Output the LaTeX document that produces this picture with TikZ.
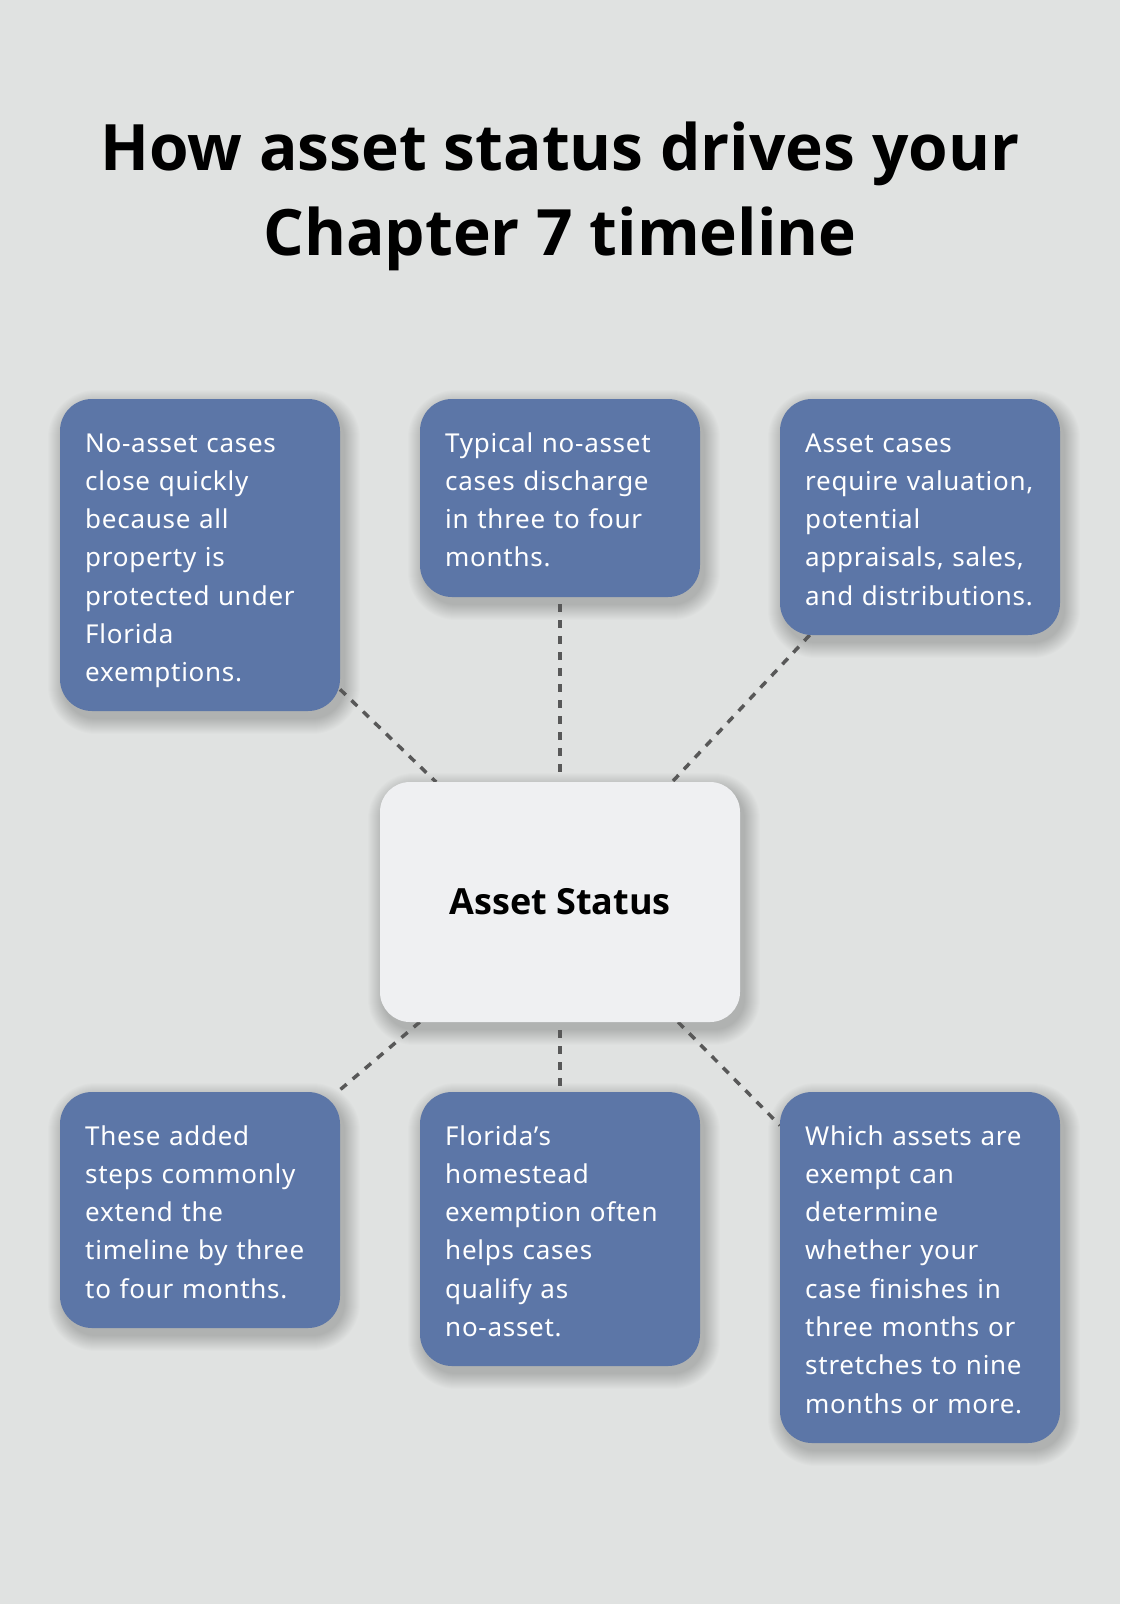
\documentclass[tikz,border=0pt]{standalone}
\usepackage{fontspec}
\setmainfont{Open Sans}
\newfontfamily\bodyfont[LetterSpace=2.8]{Noto Sans}
\usetikzlibrary{calc}
\definecolor{bgc}{RGB}{224,226,225}
\definecolor{boxblue}{RGB}{92,118,167}
\definecolor{centerc}{RGB}{239,240,242}
\definecolor{dashc}{RGB}{88,88,88}
\pgfdeclarelayer{behind}
\pgfsetlayers{behind,main}
\newcommand\boxshadow[2]{%
  \foreach \k in {1,...,16}{%
    \fill[black, opacity=0.013, rounded corners=#2+\k]
      ($(#1.north west)+(4-\k,7-\k)$) rectangle ($(#1.south east)+(4+\k,7+\k)$);}}
\begin{document}
\begin{tikzpicture}[x=1pt,y=-1pt,
  infobox/.style={fill=boxblue, rounded corners=32pt, inner sep=0pt, outer sep=0pt, minimum width=280pt, anchor=north west},
  infotext/.style={text=white, font=\bodyfont\fontsize{26}{38.3}\selectfont, text width=260pt, align=left, inner sep=0pt, anchor=base west},
  centerbox/.style={fill=centerc, rounded corners=30pt, inner sep=0pt, outer sep=0pt, minimum width=360pt, minimum height=240pt, font=\fontsize{36}{40}\bfseries\selectfont, text=black},
  titletext/.style={font=\fontsize{64}{85}\bfseries\selectfont, text=black, anchor=base, inner sep=0pt},
  connector/.style={draw=dashc, line width=3.5pt, dash pattern=on 8pt off 8pt}]
\useasboundingbox (0,0) rectangle (1120,1604);
\begin{pgfonlayer}{behind}
\fill[bgc] (0,0) rectangle (1120,1604);
\end{pgfonlayer}

\node[titletext] (title1) at (560,170) {How asset status drives your};
\node[titletext] (title2) at (560,255) {Chapter 7 timeline};

\node[centerbox] (center) at (560,902) {Asset Status};

\node[infobox, minimum height=312pt] (tl) at (60,399) {};
\node[infobox, minimum height=198pt] (tm) at (420,399) {};
\node[infobox, minimum height=236pt] (tr) at (780,399) {};
\node[infobox, minimum height=236pt] (bl) at (60,1092) {};
\node[infobox, minimum height=274pt] (bm) at (420,1092) {};
\node[infobox, minimum height=351pt] (br) at (780,1092) {};

\node[infotext] (tltext) at (85,452) {No-asset cases\\close quickly\\because all\\property is\\protected under\\Florida\\exemptions.};
\node[infotext] (tmtext) at (445,452) {Typical no-asset\\cases discharge\\in three to four\\months.};
\node[infotext] (trtext) at (805,452) {Asset cases\\require valuation,\\potential\\appraisals, sales,\\and distributions.};
\node[infotext] (bltext) at (85,1145) {These added\\steps commonly\\extend the\\timeline by three\\to four months.};
\node[infotext] (bmtext) at (445,1145) {Florida’s\\homestead\\exemption often\\helps cases\\qualify as\\no-asset.};
\node[infotext] (brtext) at (805,1145) {Which assets are\\exempt can\\determine\\whether your\\case finishes in\\three months or\\stretches to nine\\months or more.};

\begin{pgfonlayer}{behind}
\boxshadow{center}{30}
\boxshadow{tl}{32}
\boxshadow{tm}{32}
\boxshadow{tr}{32}
\boxshadow{bl}{32}
\boxshadow{bm}{32}
\boxshadow{br}{32}
\draw[connector] (tl) -- (center);
\draw[connector, shorten <=7pt, shorten >=10pt] (tm) -- (center);
\draw[connector] (tr) -- (center);
\draw[connector] (center) -- (bl);
\draw[connector, shorten <=8pt, shorten >=6pt] (center) -- (bm);
\draw[connector] (center) -- (br);
\end{pgfonlayer}
\end{tikzpicture}
\end{document}
